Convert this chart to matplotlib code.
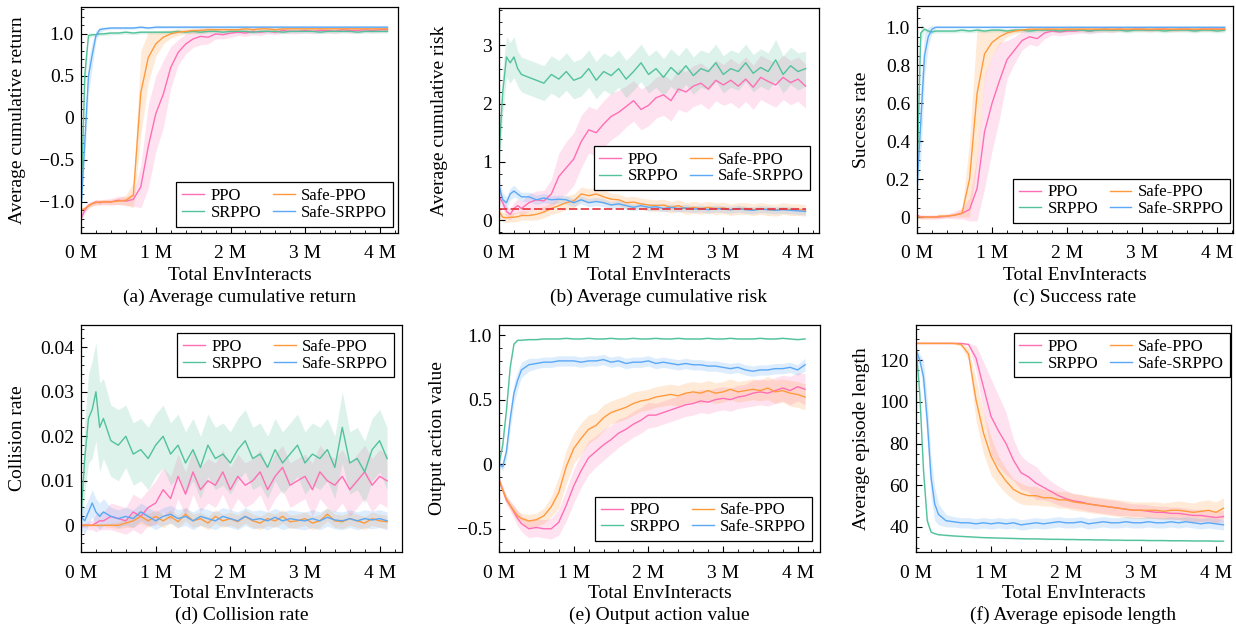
"""Six-panel training curves (PPO / SRPPO / Safe-PPO / Safe-SRPPO)."""
import matplotlib

matplotlib.use("Agg")
import matplotlib.pyplot as plt
from matplotlib.ticker import FuncFormatter, MultipleLocator

W, H = 1236, 631

# env interacts, in millions
X_M = [0, 0.05, 0.1, 0.15, 0.2, 0.25, 0.3,
       0.4, 0.5, 0.6, 0.7, 0.8, 0.9, 1.0,
       1.1, 1.2, 1.3, 1.4, 1.5, 1.6, 1.7, 1.8, 1.9, 2.0,
       2.1, 2.2, 2.3, 2.4, 2.5, 2.6, 2.7, 2.8, 2.9, 3.0,
       3.1, 3.2, 3.3, 3.4, 3.5, 3.6, 3.7, 3.8, 3.9, 4.0, 4.1]

# (a) average cumulative return
A_PPO = [-1.2, -1.1, -1.04, -1.02, -1.0, -1.01, -1.0,
         -1.0, -0.98, -0.99, -0.97, -0.82, -0.34, 0.05,
         0.28, 0.6, 0.78, 0.88, 0.94, 0.97, 0.96, 1.0, 0.99, 1.01,
         1.02, 1.01, 1.03, 1.02, 1.03, 1.02, 1.04, 1.03, 1.03, 1.04,
         1.03, 1.04, 1.04, 1.03, 1.05, 1.04, 1.04, 1.05, 1.04, 1.05, 1.05]
A_PPO_SD = [0.05, 0.04, 0.03, 0.03, 0.03, 0.03, 0.03,
            0.04, 0.05, 0.05, 0.08, 0.25, 0.5, 0.45,
            0.4, 0.25, 0.15, 0.12, 0.1, 0.1, 0.08, 0.06, 0.05, 0.05,
            0.04, 0.04, 0.04, 0.04, 0.03, 0.03, 0.03, 0.03, 0.03, 0.03,
            0.03, 0.03, 0.03, 0.03, 0.03, 0.03, 0.03, 0.03, 0.03, 0.03, 0.03]
A_SRPPO = [-1.1, 0.5, 0.98, 0.99, 0.99, 1.0, 1.0,
           1.01, 1.01, 1.02, 1.01, 1.02, 1.02, 1.02,
           1.02, 1.02, 1.03, 1.02, 1.03, 1.02, 1.03, 1.03, 1.02, 1.03,
           1.03, 1.03, 1.02, 1.03, 1.03, 1.03, 1.02, 1.03, 1.03, 1.03,
           1.03, 1.02, 1.03, 1.03, 1.03, 1.03, 1.02, 1.03, 1.03, 1.03, 1.03]
A_SRPPO_SD = [0.04, 0.2, 0.03, 0.02, 0.02, 0.02, 0.02,
              0.02, 0.02, 0.02, 0.02, 0.02, 0.02, 0.02,
              0.02, 0.02, 0.02, 0.02, 0.02, 0.02, 0.02, 0.02, 0.02, 0.02,
              0.02, 0.02, 0.02, 0.02, 0.02, 0.02, 0.02, 0.02, 0.02, 0.02,
              0.02, 0.02, 0.02, 0.02, 0.02, 0.02, 0.02, 0.02, 0.02, 0.02, 0.02]
A_SAFE_PPO = [-1.1, -1.08, -1.05, -1.02, -1.01, -1.0, -1.0,
              -1.0, -0.99, -0.98, -0.92, 0.3, 0.72, 0.88,
              0.96, 1.0, 1.02, 1.03, 1.04, 1.04, 1.05, 1.05, 1.05, 1.05,
              1.05, 1.06, 1.05, 1.06, 1.06, 1.05, 1.06, 1.06, 1.06, 1.06,
              1.06, 1.06, 1.06, 1.06, 1.06, 1.06, 1.06, 1.06, 1.06, 1.06, 1.06]
A_SAFE_PPO_SD = [0.03, 0.03, 0.03, 0.03, 0.03, 0.03, 0.03,
                 0.03, 0.04, 0.06, 0.15, 0.5, 0.3, 0.15,
                 0.08, 0.05, 0.04, 0.03, 0.03, 0.03, 0.03, 0.02, 0.02, 0.02,
                 0.02, 0.02, 0.02, 0.02, 0.02, 0.02, 0.02, 0.02, 0.02, 0.02,
                 0.02, 0.02, 0.02, 0.02, 0.02, 0.02, 0.02, 0.02, 0.02, 0.02, 0.02]
A_SAFE_SRPPO = [-1.1, -0.3, 0.5, 0.75, 0.98, 1.05, 1.06,
                1.07, 1.07, 1.07, 1.07, 1.08, 1.07, 1.08,
                1.08, 1.08, 1.08, 1.08, 1.08, 1.08, 1.08, 1.08, 1.08, 1.08,
                1.08, 1.08, 1.08, 1.08, 1.08, 1.08, 1.08, 1.08, 1.08, 1.08,
                1.08, 1.08, 1.08, 1.08, 1.08, 1.08, 1.08, 1.08, 1.08, 1.08, 1.08]
A_SAFE_SRPPO_SD = [0.05, 0.2, 0.2, 0.15, 0.06, 0.03, 0.02,
                   0.015, 0.015, 0.015, 0.015, 0.015, 0.015, 0.015,
                   0.015, 0.015, 0.015, 0.015, 0.015, 0.015, 0.015, 0.015, 0.015, 0.015,
                   0.015, 0.015, 0.015, 0.015, 0.015, 0.015, 0.015, 0.015, 0.015, 0.015,
                   0.015, 0.015, 0.015, 0.015, 0.015, 0.015, 0.015, 0.015, 0.015, 0.015, 0.015]

# (b) average cumulative risk
B_PPO = [0.4, 0.3, 0.15, 0.1, 0.2, 0.25, 0.2,
         0.3, 0.35, 0.33, 0.45, 0.75, 0.9, 1.05,
         1.35, 1.55, 1.5, 1.65, 1.78, 1.85, 1.95, 2.05, 1.9, 1.97,
         2.1, 2.15, 2.05, 2.25, 2.2, 2.3, 2.35, 2.25, 2.4, 2.32,
         2.4, 2.3, 2.42, 2.28, 2.45, 2.38, 2.32, 2.45, 2.36, 2.42, 2.3]
B_PPO_SD = [0.1, 0.1, 0.1, 0.1, 0.1, 0.12, 0.12,
            0.15, 0.15, 0.18, 0.25, 0.4, 0.45, 0.45,
            0.45, 0.4, 0.4, 0.4, 0.4, 0.38, 0.35, 0.35, 0.35, 0.35,
            0.35, 0.35, 0.35, 0.35, 0.35, 0.35, 0.35, 0.35, 0.35, 0.35,
            0.38, 0.38, 0.38, 0.38, 0.38, 0.38, 0.38, 0.38, 0.38, 0.38, 0.38]
B_SRPPO = [1.1, 2.2, 2.8, 2.7, 2.8, 2.6, 2.5,
           2.45, 2.4, 2.35, 2.5, 2.42, 2.55, 2.4,
           2.45, 2.6, 2.4, 2.55, 2.48, 2.6, 2.42, 2.55, 2.7, 2.5,
           2.6, 2.45, 2.62, 2.5, 2.65, 2.48, 2.6, 2.55, 2.7, 2.5,
           2.6, 2.55, 2.7, 2.52, 2.62, 2.55, 2.75, 2.5, 2.65, 2.55, 2.6]
B_SRPPO_SD = [0.3, 0.4, 0.35, 0.35, 0.35, 0.3, 0.3,
              0.3, 0.3, 0.3, 0.32, 0.32, 0.32, 0.32,
              0.32, 0.32, 0.32, 0.32, 0.32, 0.32, 0.32, 0.32, 0.32, 0.32,
              0.32, 0.32, 0.32, 0.32, 0.32, 0.32, 0.32, 0.32, 0.32, 0.32,
              0.32, 0.32, 0.32, 0.32, 0.32, 0.32, 0.35, 0.32, 0.32, 0.32, 0.3]
B_SAFE_PPO = [0.15, 0.05, 0.04, 0.05, 0.05, 0.06, 0.08,
              0.08, 0.1, 0.14, 0.2, 0.25, 0.3, 0.33,
              0.45, 0.42, 0.45, 0.4, 0.36, 0.35, 0.3, 0.31, 0.28, 0.26,
              0.25, 0.26, 0.22, 0.25, 0.2, 0.22, 0.2, 0.22, 0.2, 0.21,
              0.18, 0.2, 0.2, 0.18, 0.2, 0.18, 0.17, 0.2, 0.18, 0.18, 0.17]
B_SAFE_PPO_SD = [0.08, 0.08, 0.08, 0.08, 0.08, 0.08, 0.08,
                 0.08, 0.1, 0.1, 0.1, 0.12, 0.12, 0.12,
                 0.12, 0.12, 0.12, 0.12, 0.1, 0.1, 0.1, 0.1, 0.1, 0.1,
                 0.1, 0.1, 0.1, 0.1, 0.1, 0.1, 0.1, 0.1, 0.1, 0.1,
                 0.1, 0.1, 0.1, 0.1, 0.1, 0.1, 0.1, 0.1, 0.1, 0.1, 0.1]
B_SAFE_SRPPO = [0.6, 0.35, 0.3, 0.45, 0.5, 0.45, 0.4,
                0.4, 0.35, 0.38, 0.35, 0.36, 0.35, 0.3,
                0.35, 0.3, 0.32, 0.3, 0.26, 0.28, 0.25, 0.22, 0.25, 0.22,
                0.23, 0.2, 0.22, 0.2, 0.21, 0.19, 0.2, 0.18, 0.2, 0.19,
                0.18, 0.2, 0.18, 0.17, 0.19, 0.18, 0.17, 0.18, 0.17, 0.16, 0.15]
B_SAFE_SRPPO_SD = [0.15, 0.12, 0.1, 0.1, 0.1, 0.08, 0.08,
                   0.08, 0.08, 0.08, 0.07, 0.07, 0.07, 0.07,
                   0.07, 0.07, 0.07, 0.07, 0.06, 0.06, 0.06, 0.06, 0.06, 0.06,
                   0.06, 0.06, 0.06, 0.06, 0.06, 0.06, 0.06, 0.06, 0.06, 0.06,
                   0.06, 0.06, 0.06, 0.06, 0.06, 0.06, 0.06, 0.06, 0.06, 0.06, 0.06]
RISK_LIMIT = 0.2

# (c) success rate
C_PPO = [0.01, 0.0, 0.0, 0.0, 0.0, 0.0, 0.0,
         0.005, 0.01, 0.02, 0.04, 0.15, 0.45, 0.6,
         0.72, 0.83, 0.88, 0.93, 0.95, 0.94, 0.97, 0.98, 0.975, 0.98,
         0.98, 0.985, 0.98, 0.985, 0.99, 0.985, 0.99, 0.985, 0.99, 0.99,
         0.985, 0.99, 0.99, 0.985, 0.99, 0.99, 0.985, 0.99, 0.99, 0.99, 0.99]
C_PPO_SD = [0.01, 0.01, 0.01, 0.01, 0.01, 0.01, 0.01,
            0.01, 0.02, 0.03, 0.06, 0.17, 0.3, 0.25,
            0.2, 0.1, 0.07, 0.05, 0.04, 0.04, 0.03, 0.02, 0.02, 0.02,
            0.015, 0.015, 0.015, 0.015, 0.015, 0.015, 0.01, 0.01, 0.01, 0.01,
            0.01, 0.01, 0.01, 0.01, 0.01, 0.01, 0.01, 0.01, 0.01, 0.01, 0.01]
C_SRPPO = [0.2, 0.97, 0.99, 0.98, 0.975, 0.98, 0.98,
           0.98, 0.98, 0.985, 0.98, 0.985, 0.98, 0.985,
           0.985, 0.98, 0.985, 0.985, 0.98, 0.985, 0.985, 0.985, 0.98, 0.985,
           0.985, 0.985, 0.98, 0.985, 0.985, 0.985, 0.985, 0.98, 0.985, 0.985,
           0.985, 0.985, 0.98, 0.985, 0.985, 0.985, 0.98, 0.985, 0.985, 0.98, 0.985]
C_SRPPO_SD = [0.1, 0.05, 0.01, 0.01, 0.01, 0.01, 0.01,
              0.01, 0.01, 0.01, 0.01, 0.01, 0.01, 0.01,
              0.01, 0.01, 0.01, 0.01, 0.01, 0.01, 0.01, 0.01, 0.01, 0.01,
              0.01, 0.01, 0.01, 0.01, 0.01, 0.01, 0.01, 0.01, 0.01, 0.01,
              0.01, 0.01, 0.01, 0.01, 0.01, 0.01, 0.01, 0.01, 0.01, 0.01, 0.01]
C_SAFE_PPO = [0.0, 0.0, 0.0, 0.0, 0.0, 0.0, 0.005,
              0.005, 0.01, 0.02, 0.2, 0.65, 0.86, 0.92,
              0.95, 0.97, 0.98, 0.985, 0.99, 0.99, 0.99, 0.99, 0.99, 0.99,
              0.99, 0.99, 0.99, 0.99, 0.99, 0.99, 0.99, 0.99, 0.99, 0.99,
              0.99, 0.99, 0.99, 0.99, 0.99, 0.99, 0.99, 0.99, 0.99, 0.99, 0.99]
C_SAFE_PPO_SD = [0.01, 0.01, 0.01, 0.01, 0.01, 0.01, 0.01,
                 0.01, 0.01, 0.02, 0.2, 0.35, 0.12, 0.07,
                 0.04, 0.02, 0.015, 0.01, 0.01, 0.01, 0.01, 0.01, 0.01, 0.01,
                 0.01, 0.01, 0.01, 0.01, 0.01, 0.01, 0.01, 0.01, 0.01, 0.01,
                 0.01, 0.01, 0.01, 0.01, 0.01, 0.01, 0.01, 0.01, 0.01, 0.01, 0.01]
C_SAFE_SRPPO = [0.15, 0.5, 0.85, 0.95, 0.99, 1.0, 1.0,
                1.0, 1.0, 1.0, 1.0, 1.0, 1.0, 1.0,
                1.0, 1.0, 1.0, 1.0, 1.0, 1.0, 1.0, 1.0, 1.0, 1.0,
                1.0, 1.0, 1.0, 1.0, 1.0, 1.0, 1.0, 1.0, 1.0, 1.0,
                1.0, 1.0, 1.0, 1.0, 1.0, 1.0, 1.0, 1.0, 1.0, 1.0, 1.0]
C_SAFE_SRPPO_SD = [0.05, 0.2, 0.12, 0.05, 0.02, 0.005, 0.005,
                   0.005, 0.005, 0.005, 0.005, 0.005, 0.005, 0.005,
                   0.005, 0.005, 0.005, 0.005, 0.005, 0.005, 0.005, 0.005, 0.005, 0.005,
                   0.005, 0.005, 0.005, 0.005, 0.005, 0.005, 0.005, 0.005, 0.005, 0.005,
                   0.005, 0.005, 0.005, 0.005, 0.005, 0.005, 0.005, 0.005, 0.005, 0.005, 0.005]

# (d) collision rate
D_PPO = [0.0, 0.0, 0.0, 0.0, 0.0005, 0.001, 0.001,
         0.002, 0.0015, 0.001, 0.003, 0.002, 0.004, 0.005,
         0.008, 0.006, 0.011, 0.007, 0.012, 0.008, 0.01, 0.009, 0.012, 0.008,
         0.011, 0.009, 0.01, 0.012, 0.008, 0.011, 0.013, 0.009, 0.01, 0.011,
         0.008, 0.012, 0.01, 0.009, 0.011, 0.008, 0.01, 0.012, 0.009, 0.011, 0.01]
D_PPO_SD = [0.0005, 0.0005, 0.001, 0.001, 0.002, 0.002, 0.002,
            0.003, 0.003, 0.003, 0.004, 0.004, 0.004, 0.005,
            0.005, 0.005, 0.005, 0.005, 0.005, 0.005, 0.005, 0.005, 0.005, 0.005,
            0.005, 0.005, 0.005, 0.005, 0.005, 0.005, 0.005, 0.005, 0.005, 0.005,
            0.006, 0.006, 0.006, 0.006, 0.006, 0.006, 0.006, 0.006, 0.006, 0.006, 0.006]
D_SRPPO = [0.002, 0.015, 0.024, 0.026, 0.03, 0.022, 0.024,
           0.019, 0.018, 0.02, 0.016, 0.017, 0.015, 0.018,
           0.02, 0.016, 0.018, 0.014, 0.017, 0.013, 0.018, 0.015, 0.016, 0.014,
           0.017, 0.019, 0.015, 0.016, 0.013, 0.017, 0.014, 0.016, 0.018, 0.014,
           0.016, 0.015, 0.017, 0.013, 0.022, 0.014, 0.015, 0.012, 0.017, 0.019, 0.015]
D_SRPPO_SD = [0.003, 0.008, 0.01, 0.011, 0.011, 0.01, 0.009,
              0.008, 0.008, 0.007, 0.007, 0.007, 0.007, 0.007,
              0.007, 0.007, 0.007, 0.007, 0.007, 0.007, 0.007, 0.007, 0.007, 0.007,
              0.007, 0.007, 0.007, 0.007, 0.007, 0.007, 0.007, 0.007, 0.007, 0.007,
              0.007, 0.007, 0.007, 0.007, 0.008, 0.007, 0.007, 0.007, 0.007, 0.007, 0.007]
D_SAFE_PPO = [0.0, 0.0, 0.0, 0.0, 0.0, 0.0, 0.0,
              0.0, 0.0, 0.0005, 0.001, 0.002, 0.001, 0.002,
              0.001, 0.002, 0.0008, 0.0025, 0.001, 0.0015, 0.0005, 0.002, 0.001, 0.0015,
              0.0008, 0.002, 0.001, 0.0005, 0.0015, 0.001, 0.002, 0.0008, 0.001, 0.0015,
              0.0005, 0.001, 0.0025, 0.001, 0.0008, 0.0015, 0.001, 0.0005, 0.0015, 0.001, 0.0008]
D_SAFE_PPO_SD = [0.0003, 0.0003, 0.0003, 0.0003, 0.0003, 0.0003, 0.0003,
                 0.0005, 0.0008, 0.001, 0.0015, 0.0015, 0.0015, 0.0015,
                 0.0015, 0.0015, 0.0015, 0.0015, 0.0015, 0.0015, 0.0015, 0.0015, 0.0015, 0.0015,
                 0.0015, 0.0015, 0.0015, 0.0015, 0.0015, 0.0015, 0.0015, 0.0015, 0.0015, 0.0015,
                 0.0015, 0.0015, 0.0015, 0.0015, 0.0015, 0.0015, 0.0015, 0.0015, 0.0015, 0.0015, 0.0015]
D_SAFE_SRPPO = [0.002, 0.001, 0.003, 0.005, 0.003, 0.002, 0.003,
                0.002, 0.0015, 0.002, 0.0015, 0.003, 0.002, 0.001,
                0.002, 0.0025, 0.0015, 0.002, 0.001, 0.002, 0.0015, 0.001, 0.002, 0.0015,
                0.001, 0.002, 0.0012, 0.0015, 0.001, 0.0018, 0.001, 0.0015, 0.0012, 0.001,
                0.0015, 0.001, 0.0018, 0.0012, 0.001, 0.0015, 0.001, 0.0015, 0.0012, 0.0015, 0.001]
D_SAFE_SRPPO_SD = [0.003, 0.003, 0.003, 0.003, 0.003, 0.003, 0.003,
                   0.002, 0.002, 0.002, 0.002, 0.002, 0.002, 0.002,
                   0.002, 0.002, 0.002, 0.002, 0.002, 0.002, 0.002, 0.002, 0.002, 0.002,
                   0.002, 0.002, 0.002, 0.002, 0.002, 0.002, 0.002, 0.002, 0.002, 0.002,
                   0.002, 0.002, 0.002, 0.002, 0.002, 0.002, 0.002, 0.002, 0.002, 0.002, 0.002]

# (e) output action value
E_PPO = [-0.12, -0.2, -0.28, -0.32, -0.37, -0.42, -0.46,
         -0.5, -0.49, -0.5, -0.5, -0.45, -0.32, -0.17,
         -0.05, 0.05, 0.1, 0.15, 0.19, 0.24, 0.27, 0.31, 0.34, 0.38,
         0.38, 0.4, 0.42, 0.44, 0.46, 0.47, 0.49, 0.48, 0.5, 0.51,
         0.5, 0.52, 0.53, 0.55, 0.56, 0.55, 0.57, 0.59, 0.57, 0.6, 0.58]
E_PPO_SD = [0.02, 0.03, 0.03, 0.04, 0.05, 0.06, 0.06,
            0.07, 0.07, 0.07, 0.08, 0.1, 0.12, 0.13,
            0.13, 0.13, 0.12, 0.12, 0.11, 0.11, 0.1, 0.1, 0.1, 0.1,
            0.09, 0.09, 0.09, 0.09, 0.09, 0.09, 0.09, 0.09, 0.09, 0.09,
            0.09, 0.09, 0.09, 0.1, 0.1, 0.1, 0.1, 0.1, 0.11, 0.11, 0.12]
E_SRPPO = [0.0, 0.15, 0.42, 0.75, 0.93, 0.96, 0.96,
           0.965, 0.965, 0.97, 0.97, 0.97, 0.975, 0.97,
           0.97, 0.975, 0.97, 0.97, 0.975, 0.97, 0.97, 0.975, 0.97, 0.97,
           0.975, 0.97, 0.97, 0.975, 0.97, 0.97, 0.97, 0.975, 0.97, 0.97,
           0.975, 0.97, 0.97, 0.97, 0.975, 0.97, 0.97, 0.975, 0.97, 0.965, 0.97]
E_SRPPO_SD = [0.01, 0.03, 0.03, 0.02, 0.01, 0.005, 0.005,
              0.005, 0.005, 0.005, 0.005, 0.005, 0.005, 0.005,
              0.005, 0.005, 0.005, 0.005, 0.005, 0.005, 0.005, 0.005, 0.005, 0.005,
              0.005, 0.005, 0.005, 0.005, 0.005, 0.005, 0.005, 0.005, 0.005, 0.005,
              0.005, 0.005, 0.005, 0.005, 0.005, 0.005, 0.005, 0.005, 0.005, 0.005, 0.005]
E_SAFE_PPO = [-0.12, -0.2, -0.27, -0.32, -0.36, -0.4, -0.42,
              -0.44, -0.43, -0.4, -0.33, -0.22, -0.02, 0.12,
              0.2, 0.27, 0.3, 0.36, 0.4, 0.42, 0.44, 0.47, 0.49, 0.5,
              0.52, 0.53, 0.54, 0.53, 0.55, 0.56, 0.55, 0.57, 0.55, 0.56,
              0.58, 0.56, 0.57, 0.58, 0.57, 0.59, 0.56, 0.57, 0.55, 0.54, 0.52]
E_SAFE_PPO_SD = [0.02, 0.02, 0.03, 0.03, 0.04, 0.04, 0.04,
                 0.05, 0.05, 0.06, 0.08, 0.12, 0.13, 0.12,
                 0.12, 0.11, 0.1, 0.1, 0.09, 0.09, 0.09, 0.09, 0.08, 0.08,
                 0.08, 0.08, 0.08, 0.08, 0.08, 0.08, 0.08, 0.08, 0.08, 0.08,
                 0.08, 0.08, 0.08, 0.08, 0.08, 0.09, 0.09, 0.09, 0.1, 0.1, 0.1]
E_SAFE_SRPPO = [0.0, -0.02, 0.1, 0.35, 0.55, 0.65, 0.73,
                0.77, 0.78, 0.79, 0.79, 0.8, 0.8, 0.8,
                0.79, 0.8, 0.8, 0.81, 0.79, 0.8, 0.78, 0.79, 0.79, 0.8,
                0.78, 0.79, 0.78, 0.77, 0.78, 0.77, 0.77, 0.76, 0.76, 0.75,
                0.74, 0.75, 0.73, 0.72, 0.73, 0.73, 0.74, 0.74, 0.75, 0.73, 0.77]
E_SAFE_SRPPO_SD = [0.02, 0.03, 0.06, 0.08, 0.08, 0.07, 0.06,
                   0.05, 0.04, 0.04, 0.04, 0.04, 0.04, 0.04,
                   0.04, 0.04, 0.04, 0.04, 0.04, 0.04, 0.04, 0.04, 0.04, 0.04,
                   0.04, 0.04, 0.04, 0.04, 0.04, 0.04, 0.04, 0.04, 0.04, 0.04,
                   0.04, 0.04, 0.04, 0.04, 0.04, 0.04, 0.04, 0.04, 0.04, 0.04, 0.05]

# (f) average episode length
F_PPO = [128, 128, 128, 128, 128, 128, 128,
         128, 128, 128, 127.5, 121, 107, 93,
         86, 80, 72, 66, 64, 61, 59, 57, 55, 53.5,
         52.5, 52, 51, 50.5, 50, 49.5, 49, 48.5, 48, 48,
         47.5, 47, 47, 46.5, 46.5, 46, 45.5, 45.5, 45, 44.5, 45]
F_PPO_SD = [0.3, 0.3, 0.3, 0.3, 0.3, 0.3, 0.3,
            0.3, 0.3, 0.3, 0.5, 6, 12, 18,
            17, 15, 10, 8, 7, 8, 6, 5, 4.5, 4,
            3.5, 3.5, 3.5, 3.5, 3.5, 3.5, 3.5, 3, 3, 3,
            3, 3, 3, 3, 3, 3, 3, 3, 3, 3, 3]
F_SRPPO = [127, 104, 67, 43, 37.6, 36.8, 36.3,
           36, 35.7, 35.5, 35.3, 35.1, 34.9, 34.8,
           34.7, 34.6, 34.5, 34.4, 34.3, 34.3, 34.2, 34.1, 34.1, 34.0,
           34.0, 33.9, 33.9, 33.8, 33.8, 33.7, 33.7, 33.6, 33.6, 33.6,
           33.5, 33.5, 33.5, 33.4, 33.4, 33.4, 33.3, 33.3, 33.3, 33.2, 33.2]
F_SRPPO_SD = [1, 3, 3, 2, 0.5, 0.3, 0.3,
              0.3, 0.3, 0.3, 0.3, 0.3, 0.3, 0.3,
              0.3, 0.3, 0.3, 0.3, 0.3, 0.3, 0.3, 0.3, 0.3, 0.3,
              0.3, 0.3, 0.3, 0.3, 0.3, 0.3, 0.3, 0.3, 0.3, 0.3,
              0.3, 0.3, 0.3, 0.3, 0.3, 0.3, 0.3, 0.3, 0.3, 0.3, 0.3]
F_SAFE_PPO = [128, 128, 128, 128, 128, 128, 128,
              128, 128, 127.5, 123, 101, 85, 74,
              67, 62, 58, 56, 55, 55, 54, 54, 53, 53,
              52, 51.5, 51, 50.5, 50, 49.5, 49, 48.5, 48, 48,
              48, 48, 47.5, 48, 48, 47.5, 47, 47.5, 48, 47, 49]
F_SAFE_PPO_SD = [0.3, 0.3, 0.3, 0.3, 0.3, 0.3, 0.3,
                 0.3, 0.3, 1, 3, 10, 10, 9,
                 7, 6, 5, 5, 4.5, 4.5, 4, 4, 4, 4,
                 4, 4, 4, 4, 4, 4, 4, 4, 4, 4,
                 4, 4, 4, 4, 4.5, 4.5, 4.5, 5, 5, 5, 5]
F_SAFE_SRPPO = [125, 120, 112, 91, 64, 51, 46,
                43, 42.5, 42, 42, 41.5, 42, 41.5,
                42, 41.5, 42, 41, 41.5, 42, 41.5, 42, 42.5, 42,
                42, 42.5, 41.5, 42, 42.5, 42, 42, 42.5, 42, 42,
                42.5, 42, 42, 42.5, 42, 42.5, 42, 41.5, 42, 41.5, 41]
F_SAFE_SRPPO_SD = [2, 3, 8, 10, 10, 8, 5,
                   3, 2.5, 2.5, 2.5, 2.5, 2.5, 2.5,
                   2.5, 2.5, 2.5, 2.5, 2.5, 2.5, 2.5, 2.5, 2.5, 2.5,
                   2.5, 2.5, 2.5, 2.5, 2.5, 2.5, 2.5, 2.5, 2.5, 2.5,
                   2.5, 2.5, 2.5, 2.5, 2.5, 2.5, 2.5, 2.5, 2.5, 2.5, 2.5]

LABELS = ["PPO", "SRPPO", "Safe-PPO", "Safe-SRPPO"]
COLORS = ["#ff6eb4", "#52c29a", "#ff9a3c", "#5aa8f6"]

PANELS = [
    dict(series=[(A_PPO, A_PPO_SD), (A_SRPPO, A_SRPPO_SD), (A_SAFE_PPO, A_SAFE_PPO_SD), (A_SAFE_SRPPO, A_SAFE_SRPPO_SD)],
         ylabel="Average cumulative return", caption="(a) Average cumulative return",
         box=(81, 7, 398, 233), xmax=4.24, ylim=(-1.37, 1.32), major=0.5, minor=0.1, dec=1,
         leg=dict(loc="lower right", bbox_to_anchor=(0.984, 0.027)), ylab_x=18),
    dict(series=[(B_PPO, B_PPO_SD), (B_SRPPO, B_SRPPO_SD), (B_SAFE_PPO, B_SAFE_PPO_SD), (B_SAFE_SRPPO, B_SAFE_SRPPO_SD)],
         ylabel="Average cumulative risk", caption="(b) Average cumulative risk",
         box=(499, 8, 819, 233), xmax=4.28, ylim=(-0.22, 3.64), major=1, minor=0.2, dec=0,
         leg=dict(loc="lower right", bbox_to_anchor=(0.972, 0.19)), ylab_x=439),
    dict(series=[(C_PPO, C_PPO_SD), (C_SRPPO, C_SRPPO_SD), (C_SAFE_PPO, C_SAFE_PPO_SD), (C_SAFE_SRPPO, C_SAFE_SRPPO_SD)],
         ylabel="Success rate", caption="(c) Success rate",
         box=(917, 6, 1233, 233), xmax=4.21, ylim=(-0.084, 1.112), major=0.2, minor=0.05, dec=1,
         leg=dict(loc="lower right", bbox_to_anchor=(0.99, 0.044)), ylab_x=861),
    dict(series=[(D_PPO, D_PPO_SD), (D_SRPPO, D_SRPPO_SD), (D_SAFE_PPO, D_SAFE_PPO_SD), (D_SAFE_SRPPO, D_SAFE_SRPPO_SD)],
         ylabel="Collision rate", caption="(d) Collision rate",
         box=(81, 325, 402, 552), xmax=4.3, ylim=(-0.006, 0.045), major=0.01, minor=0.002, dec=2,
         leg=dict(loc="upper right", bbox_to_anchor=(0.975, 0.965)), ylab_x=18),
    dict(series=[(E_PPO, E_PPO_SD), (E_SRPPO, E_SRPPO_SD), (E_SAFE_PPO, E_SAFE_PPO_SD), (E_SAFE_SRPPO, E_SAFE_SRPPO_SD)],
         ylabel="Output action value", caption="(e) Output action value",
         box=(499, 325, 820, 552), xmax=4.3, ylim=(-0.68, 1.078), major=0.5, minor=0.1, dec=1,
         leg=dict(loc="lower right", bbox_to_anchor=(0.975, 0.048)), ylab_x=437),
    dict(series=[(F_PPO, F_PPO_SD), (F_SRPPO, F_SRPPO_SD), (F_SAFE_PPO, F_SAFE_PPO_SD), (F_SAFE_SRPPO, F_SAFE_SRPPO_SD)],
         ylabel="Average episode length", caption="(f) Average episode length",
         box=(916, 325, 1231, 552), xmax=4.2, ylim=(28, 136.8), major=20, minor=5, dec=0,
         leg=dict(loc="upper right", bbox_to_anchor=(0.997, 0.965)), ylab_x=861),
]

plt.rcParams.update({
    "font.family": "serif",
    "font.serif": ["Liberation Serif", "DejaVu Serif"],
    "font.size": 14,
    "axes.linewidth": 0.9,
})


def _yfmt(dec):
    def f(v, _):
        if abs(v) < 1e-9:
            return "0"
        return f"{v:.{dec}f}".replace("-", "\u2212")
    return FuncFormatter(f)


def _draw(fig, p, with_limit=False):
    x0, y0, x1, y1 = p["box"]
    ax = fig.add_axes([x0 / W, 1 - y1 / H, (x1 - x0) / W, (y1 - y0) / H])
    for (mean, sd), label, color in zip(p["series"], LABELS, COLORS):
        lo = [m - s for m, s in zip(mean, sd)]
        hi = [m + s for m, s in zip(mean, sd)]
        ax.fill_between(X_M, lo, hi, color=color, alpha=0.2, lw=0)
        ax.plot(X_M, mean, color=color, lw=1.0, label=label)
    if with_limit:
        ax.hlines(RISK_LIMIT, X_M[0], X_M[-1], colors="#e8313a", linestyles=(0, (5, 2)), lw=1.2)
    ax.set_xlim(0, p["xmax"])
    ax.set_ylim(*p["ylim"])
    ax.xaxis.set_major_locator(MultipleLocator(1))
    ax.xaxis.set_minor_locator(MultipleLocator(0.2))
    ax.xaxis.set_major_formatter(FuncFormatter(lambda v, _: f"{v:.0f} M"))
    ax.yaxis.set_major_locator(MultipleLocator(p["major"]))
    ax.yaxis.set_minor_locator(MultipleLocator(p["minor"]))
    ax.yaxis.set_major_formatter(_yfmt(p["dec"]))
    ax.tick_params(which="both", direction="in", top=False, right=False)
    ax.tick_params(which="major", length=4, width=0.8)
    ax.tick_params(which="minor", length=2.2, width=0.6)
    ax.tick_params(axis="x", pad=9)
    ax.tick_params(axis="y", pad=5)
    leg = ax.legend(ncol=2, fontsize=12, frameon=True, fancybox=False, edgecolor="black",
                    framealpha=1, borderaxespad=0, handlelength=1.3, handletextpad=0.4,
                    columnspacing=0.7, labelspacing=0.05, borderpad=0.35, **p["leg"])
    leg.get_frame().set_linewidth(0.9)

    cx = (x0 + x1) / 2 / W
    row_top = y1 > 300
    fig.text(cx, 1 - (593 if row_top else 275) / H, "Total EnvInteracts",
             ha="center", va="center", fontsize=14)
    fig.text(cx, 1 - (615 if row_top else 297) / H, p["caption"],
             ha="center", va="center", fontsize=14)
    fig.text(p["ylab_x"] / W, 1 - (y0 + y1) / 2 / H, p["ylabel"], rotation=90,
             ha="center", va="center", fontsize=14)
    return ax


def main() -> None:
    fig = plt.figure(figsize=(W / 100, H / 100), dpi=100)
    for i, p in enumerate(PANELS):
        _draw(fig, p, with_limit=(i == 1))
    fig.savefig("out.png", dpi=100)
    plt.close(fig)


if __name__ == "__main__":
    main()
